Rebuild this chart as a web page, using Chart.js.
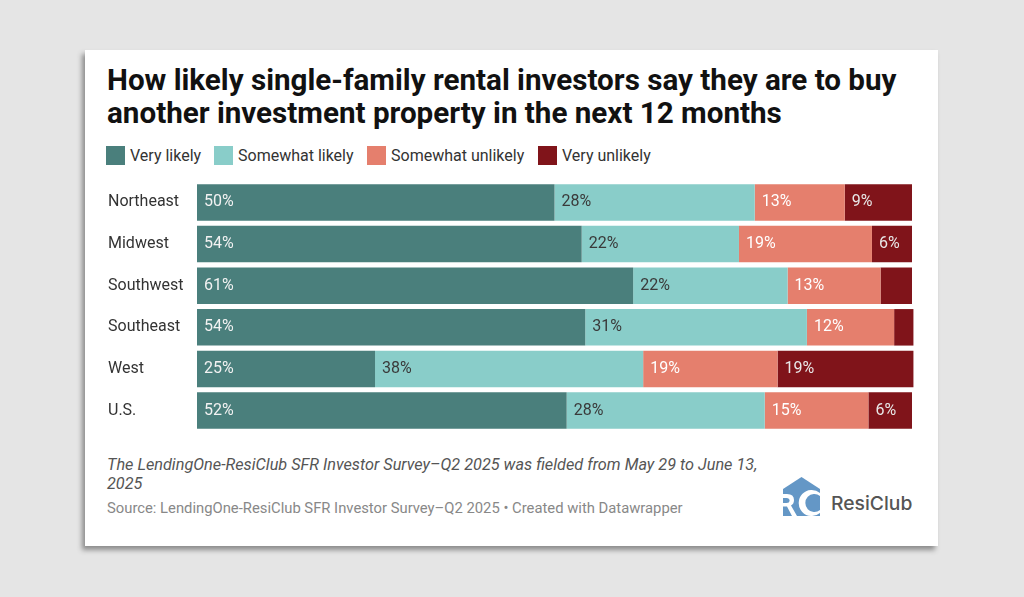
<!DOCTYPE html>
<html>
<head>
<meta charset="utf-8">
<script src="https://cdn.jsdelivr.net/npm/chart.js@4/dist/chart.umd.min.js"></script>
<style>
  html, body { margin: 0; padding: 0; width: 1024px; height: 597px; overflow: hidden; background: #e5e5e5; font-family: Roboto, sans-serif; }
  #card { position: absolute; left: 85px; top: 50px; width: 853px; height: 496px; background: #fff; box-shadow: -3px 4px 5px #8c8c8c; }
  #title { position: absolute; left: 22px; top: 14px; margin: 0; font-size: 29.6px; line-height: 33px; font-weight: 700; color: #111; white-space: nowrap; }
  #legend { position: absolute; left: 21px; top: 96px; height: 19px; }
  .key { position: absolute; top: 0; height: 19px; white-space: nowrap; font-size: 16px; line-height: 19px; color: #333; }
  .key i { position: absolute; left: 0; top: 0; width: 19px; height: 19px; }
  .key span { position: absolute; left: 24px; top: 0; }
  #chartBox { position: absolute; left: 23px; top: 122px; width: 808px; height: 269px; }
  #note { position: absolute; left: 22px; top: 405px; width: 665px; font-size: 16.25px; line-height: 19px; font-style: italic; color: #555; }
  #source { position: absolute; left: 22px; top: 449px; font-size: 14.8px; line-height: 18px; color: #888; white-space: nowrap; }
  #logo { position: absolute; left: 698px; top: 427px; width: 37px; height: 39px; }
  #logoText { position: absolute; left: 746px; top: 441px; font-family: Inter, sans-serif; font-size: 19.3px; line-height: 24px; font-weight: 500; color: #555; }
</style>
</head>
<body>
<div id="card">
  <h1 id="title">How likely single-family rental investors say they are to buy<br>another investment property in the next 12 months</h1>
  <div id="legend"></div>
  <div id="chartBox"><canvas id="canvas"></canvas></div>
  <div id="note">The LendingOne-ResiClub SFR Investor Survey–Q2 2025 was fielded from May 29 to June 13, 2025</div>
  <div id="source">Source: LendingOne-ResiClub SFR Investor Survey–Q2 2025 • Created with Datawrapper</div>
  <svg id="logo" viewBox="0 0 37 39">
    <path d="M18.5 0 L37 12 L37 39 L0 39 L0 12 Z" fill="#6497c6"/>
    <path d="M0 17 h4 q7 0 7 6 q0 4 -3 5.5 l6 10.5 h-5 l-5 -9.5 h-4 z" fill="#fff"/>
    <path d="M0 21 h3.5 q3 0 3 2.5 q0 2.5 -3 2.5 h-3.5 z" fill="#6497c6"/>
    <path d="M37 16 A13 13 0 1 0 37 36 L37 33 A9 9 0 1 1 37 19 Z" fill="#fff"/>
  </svg>
  <div id="logoText">ResiClub</div>
</div>
<script>
// Survey data
const regions = ['Northeast', 'Midwest', 'Southwest', 'Southeast', 'West', 'U.S.'];
const seriesNames = ['Very likely', 'Somewhat likely', 'Somewhat unlikely', 'Very unlikely'];
const veryLikely = [50, 53.8, 61, 54.3, 24.9, 51.7];
const somewhatLikely = [28, 22, 21.6, 31, 37.5, 27.7];
const somewhatUnlikely = [12.6, 18.6, 13, 12.2, 18.8, 14.5];
const veryUnlikely = [9.4, 5.6, 4.4, 2.7, 19, 6.1];
// Printed labels, blank where the bar has none
const veryLikelyLabels = ['50%', '54%', '61%', '54%', '25%', '52%'];
const somewhatLikelyLabels = ['28%', '22%', '22%', '31%', '38%', '28%'];
const somewhatUnlikelyLabels = ['13%', '19%', '13%', '12%', '19%', '15%'];
const veryUnlikelyLabels = ['9%', '6%', '', '', '19%', '6%'];
const seriesColors = ['#4a7f7c', '#89cdc9', '#e57f6d', '#80141a'];
const labelColors = ['#f2f2f2', '#3a3a3a', '#ffffff', '#e8e8e8'];
const legendOffsets = [0, 108, 261, 432];

// Legend sits above the chart, built from the same arrays
const legend = document.getElementById('legend');
seriesNames.forEach((name, i) => {
    const key = document.createElement('div');
    key.className = 'key';
    key.style.left = legendOffsets[i] + 'px';
    key.innerHTML = `<i style="background:${seriesColors[i]}"></i><span>${name}</span>`;
    legend.appendChild(key);
});

// Writes the percentage just inside the left end of each segment
const segmentLabels = {
    id: 'segmentLabels',
    afterDatasetsDraw(chart) {
        const ctx = chart.ctx;
        ctx.save();
        ctx.font = '16px Roboto';
        ctx.textBaseline = 'middle';
        ctx.textAlign = 'left';
        chart.data.datasets.forEach((ds, i) => {
            ctx.fillStyle = labelColors[i];
            chart.getDatasetMeta(i).data.forEach((bar, j) => {
                ctx.fillText(ds.printed[j], bar.base + 7, bar.y);
            });
        });
        ctx.restore();
    }
};

const printedLabels = [veryLikelyLabels, somewhatLikelyLabels, somewhatUnlikelyLabels, veryUnlikelyLabels];
const seriesValues = [veryLikely, somewhatLikely, somewhatUnlikely, veryUnlikely];

new Chart(document.getElementById('canvas').getContext('2d'), {
    type: 'bar',
    data: {
        labels: regions,
        datasets: seriesNames.map((name, i) => ({
            label: name,
            data: seriesValues[i],
            printed: printedLabels[i],
            backgroundColor: seriesColors[i],
            borderWidth: 0,
            barPercentage: 0.877,
            categoryPercentage: 1,
            clip: false // some rows sum just over 100 and poke past the axis end
        }))
    },
    options: {
        indexAxis: 'y',
        responsive: true,
        maintainAspectRatio: false,
        animation: false,
        layout: { padding: { right: 4 } },
        plugins: {
            legend: { display: false },
            tooltip: { enabled: false }
        },
        scales: {
            x: {
                stacked: true,
                min: 0,
                max: 100,
                display: false
            },
            y: {
                stacked: true,
                afterFit(axis) { axis.width = 89; },
                grid: { display: false },
                border: { display: false },
                ticks: {
                    crossAlign: 'far',
                    padding: 0,
                    color: '#333',
                    font: { family: 'Roboto', size: 16 }
                }
            }
        }
    },
    plugins: [segmentLabels]
});
</script>
</body>
</html>
